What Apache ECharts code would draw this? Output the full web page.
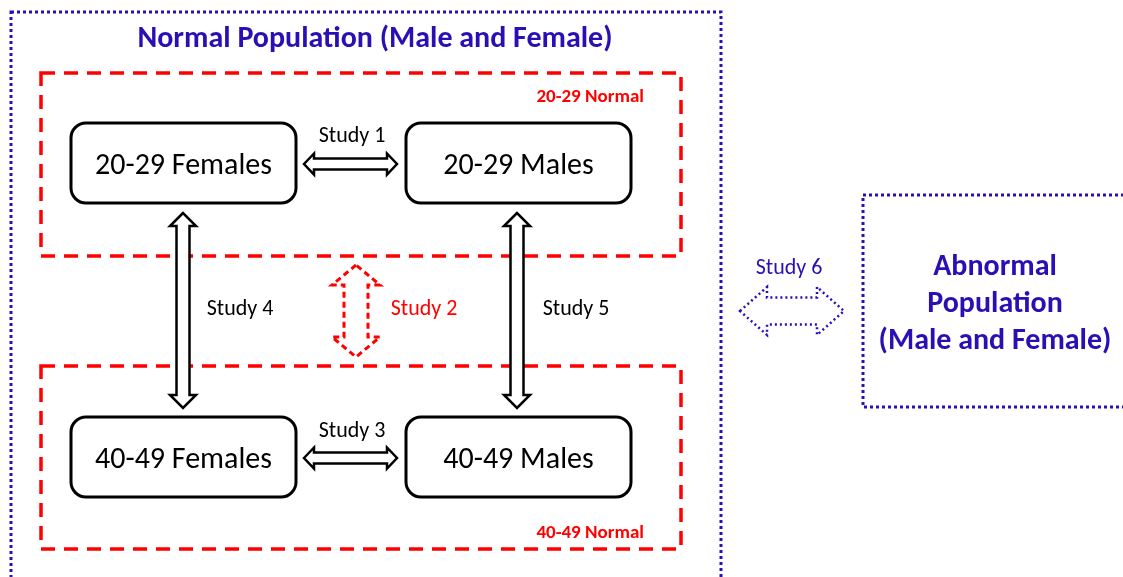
<!DOCTYPE html>
<html><head><meta charset="utf-8">
<script src="https://cdn.jsdelivr.net/npm/echarts@6/dist/echarts.min.js"></script>
<style>html,body{margin:0;padding:0;background:#fff}#c{width:1123px;height:577px}</style>
</head><body><div id="c"></div>
<script>
// ---- content ----
const titleText = 'Normal Population (Male and Female)';
const groupLabels = ['20-29 Normal', '40-49 Normal'];
const boxLabels = ['20-29 Females', '20-29 Males', '40-49 Females', '40-49 Males'];
const studyLabels = ['Study 1', 'Study 2', 'Study 3', 'Study 4', 'Study 5', 'Study 6'];
const abnormalLines = ['Abnormal', 'Population', '(Male and Female)'];

// ---- layout ----
const FONT = 'Carlito, Lato, "Open Sans", sans-serif';
const BLUE = '#2a0fb5', RED = '#ff0000', BLACK = '#000000';
const boxPos = [[71,123],[406,123],[71,417],[406,417]]; const boxW = 225, boxH = 80;
const DY = 2; // text baseline nudge

function hArrow(x1, x2, cy, hl, hh, sh) {
  return [[x1,cy],[x1+hl,cy-hh],[x1+hl,cy-sh],[x2-hl,cy-sh],[x2-hl,cy-hh],[x2,cy],
          [x2-hl,cy+hh],[x2-hl,cy+sh],[x1+hl,cy+sh],[x1+hl,cy+hh]];
}
function vArrow(cx, y1, y2, hl, hh, sh) {
  return hArrow(y1, y2, cx, hl, hh, sh).map(p => [p[1], p[0]]);
}
function txt(t, x, y, size, color, bold, align) {
  return { type: 'text', z: 10, style: { text: t, x: x, y: y + DY, fill: color, align: align || 'center',
    verticalAlign: 'middle', font: (bold ? 'bold ' : '') + size + 'px ' + FONT } };
}
function poly(points, stroke, width, dash) {
  return { type: 'polygon', z: 5, shape: { points: points },
    style: { fill: '#fff', stroke: stroke, lineWidth: width, lineDash: dash || null, lineJoin: 'miter' } };
}

const g = [];
// outer blue dotted frame
g.push({ type: 'rect', shape: { x: 11, y: 12, width: 710, height: 590 },
  style: { fill: 'none', stroke: BLUE, lineWidth: 3, lineDash: [3, 3] } });
g.push(txt(titleText, 375, 37, 30, BLUE, true));
// red dashed group frames
[[41,73],[41,366]].forEach((p, i) => {
  g.push({ type: 'rect', shape: { x: p[0], y: p[1], width: 640, height: 183 },
    style: { fill: 'none', stroke: RED, lineWidth: 3.5, lineDash: [14, 9] } });
});
g.push(txt(groupLabels[0], 644, 95, 19, RED, true, 'right'));
g.push(txt(groupLabels[1], 644, 531, 19, RED, true, 'right'));
// rounded boxes
boxLabels.forEach((t, i) => {
  const p = boxPos[i];
  g.push({ type: 'rect', z: 6, shape: { x: p[0], y: p[1], width: boxW, height: boxH, r: 15 },
    style: { fill: '#fff', stroke: BLACK, lineWidth: 3 } });
  g.push(txt(t, p[0] + boxW / 2, p[1] + boxH / 2 + 1, 30, BLACK, false));
});
// arrows
const SF = 22;
g.push(poly(hArrow(304, 397, 164, 10, 10.5, 5.5), BLACK, 2.5));
g.push(txt(studyLabels[0], 352, 134, SF, BLACK, false));
g.push(poly(vArrow(356, 265, 357, 20, 24, 12), RED, 3, [6, 4]));
g.push(txt(studyLabels[1], 424, 307, SF, RED, false));
g.push(poly(hArrow(304, 397, 458, 10, 10.5, 5.5), BLACK, 2.5));
g.push(txt(studyLabels[2], 352, 429, SF, BLACK, false));
g.push(poly(vArrow(183, 213, 408, 13, 13, 6.5), BLACK, 2.5));
g.push(txt(studyLabels[3], 240, 307, SF, BLACK, false));
g.push(poly(vArrow(517, 213, 408, 13, 13, 6.5), BLACK, 2.5));
g.push(txt(studyLabels[4], 576, 307, SF, BLACK, false));
g.push(poly(hArrow(740, 844, 311, 27, 24, 13.5), BLUE, 2.5, [2, 3]));
g.push(txt(studyLabels[5], 789, 266, SF, BLUE, false));
// abnormal population box
g.push({ type: 'rect', shape: { x: 863, y: 195, width: 280, height: 212 },
  style: { fill: 'none', stroke: BLUE, lineWidth: 3, lineDash: [3, 3] } });
abnormalLines.forEach((t, i) => g.push(txt(t, 995, 265 + i * 37, 30, BLUE, true)));

const chart = echarts.init(document.getElementById('c'), null, { renderer: 'canvas' });
chart.setOption({ animation: false, backgroundColor: '#fff', graphic: g });
</script></body></html>
